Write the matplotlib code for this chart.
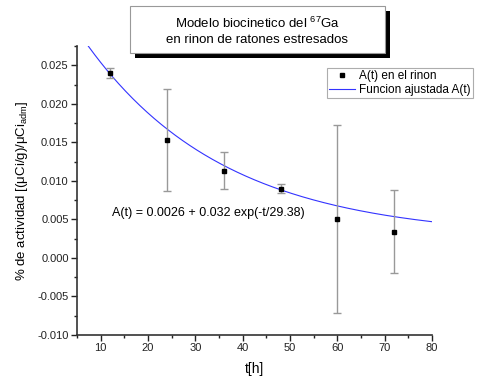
import numpy as np
import matplotlib
matplotlib.use("Agg")
import matplotlib.pyplot as plt
from matplotlib.patches import Rectangle

plt.rcParams['font.family'] = ['Liberation Sans', 'DejaVu Sans']
plt.rcParams['mathtext.fontset'] = 'custom'
plt.rcParams['mathtext.rm'] = 'Liberation Sans'
plt.rcParams['mathtext.default'] = 'regular'

t_h = [12, 24, 36, 48, 60, 72]
actividad = [0.0240, 0.0153, 0.0113, 0.0090, 0.0051, 0.0034]
error = [0.0006, 0.0066, 0.0024, 0.0006, 0.0122, 0.0054]

# fitted model A(t) = y0 + A1 exp(-t/tau)
y0 = 0.0026
a1 = 0.032
tau = 29.38

W, H = 480, 383
fig = plt.figure(figsize=(W / 100, H / 100), dpi=100)
ax = fig.add_axes([77 / W, 1 - 335 / H, (432 - 77) / W, (335 - 46) / H])

t_fit = np.linspace(5, 80, 300)
ax.plot(t_fit, y0 + a1 * np.exp(-t_fit / tau), color='#3333ff', lw=0.8,
        label='Funcion ajustada A(t)')
ax.errorbar(t_h, actividad, yerr=error, fmt='none', ecolor='#999999',
            elinewidth=1, capsize=3, capthick=1)
ax.plot(t_h, actividad, 's', color='black', ms=2.5, label='A(t) en el rinon')

ax.set_xlim(5, 80)
ax.set_ylim(-0.010, 0.0275)
ax.set_xticks(np.arange(10, 81, 10))
ax.set_xticks(np.arange(5, 81, 5), minor=True)
ax.set_yticks(np.arange(-0.010, 0.0251, 0.005))
ax.set_yticks(np.arange(-0.010, 0.0276, 0.0025), minor=True)
ax.set_yticklabels(['%.3f' % v for v in np.arange(-0.010, 0.0251, 0.005)])
ax.tick_params(which='major', direction='out', length=4, width=1, labelsize=8,
               colors='#222222', pad=2)
ax.tick_params(which='minor', direction='out', length=2.5, width=1, colors='#222222')
ax.spines['top'].set_visible(False)
ax.spines['right'].set_visible(False)
for s in ['left', 'bottom']:
    ax.spines[s].set_color('#333333')
    ax.spines[s].set_linewidth(1.2)

ax.set_xlabel('t[h]', fontsize=10, labelpad=6)
ax.set_ylabel('% de actividad [(μCi/g)/μCi$_{adm}$]', fontsize=9.5, labelpad=5)

ax.text(12.4, 0.0058, 'A(t) = 0.0026 + 0.032 exp(-t/29.38)', fontsize=9, va='center')

handles, labels = ax.get_legend_handles_labels()
leg = fig.legend(handles[::-1], labels[::-1], loc='upper left',
                 bbox_to_anchor=(327 / W, 1 - 68 / H), fontsize=8.5,
                 frameon=True, fancybox=False, borderpad=0.2, handlelength=2.2,
                 handletextpad=0.3, labelspacing=0.15, borderaxespad=0)
leg.get_frame().set_edgecolor('#999999')
leg.get_frame().set_linewidth(0.8)

# title box with shadow
fig.patches.append(Rectangle((135 / W, 1 - 58 / H), 255 / W, 47 / H,
                             transform=fig.transFigure, facecolor='black', edgecolor='none'))
fig.patches.append(Rectangle((130 / W, 1 - 53 / H), 255 / W, 47 / H,
                             transform=fig.transFigure, facecolor='white',
                             edgecolor='#999999', lw=0.8))
fig.text(257.5 / W, 1 - 23 / H, 'Modelo biocinetico del $^{67}$Ga', fontsize=9.5,
         ha='center', va='center')
fig.text(257.5 / W, 1 - 40 / H, 'en rinon de ratones estresados', fontsize=9.5,
         ha='center', va='center')

fig.savefig('out.png', dpi=100)
